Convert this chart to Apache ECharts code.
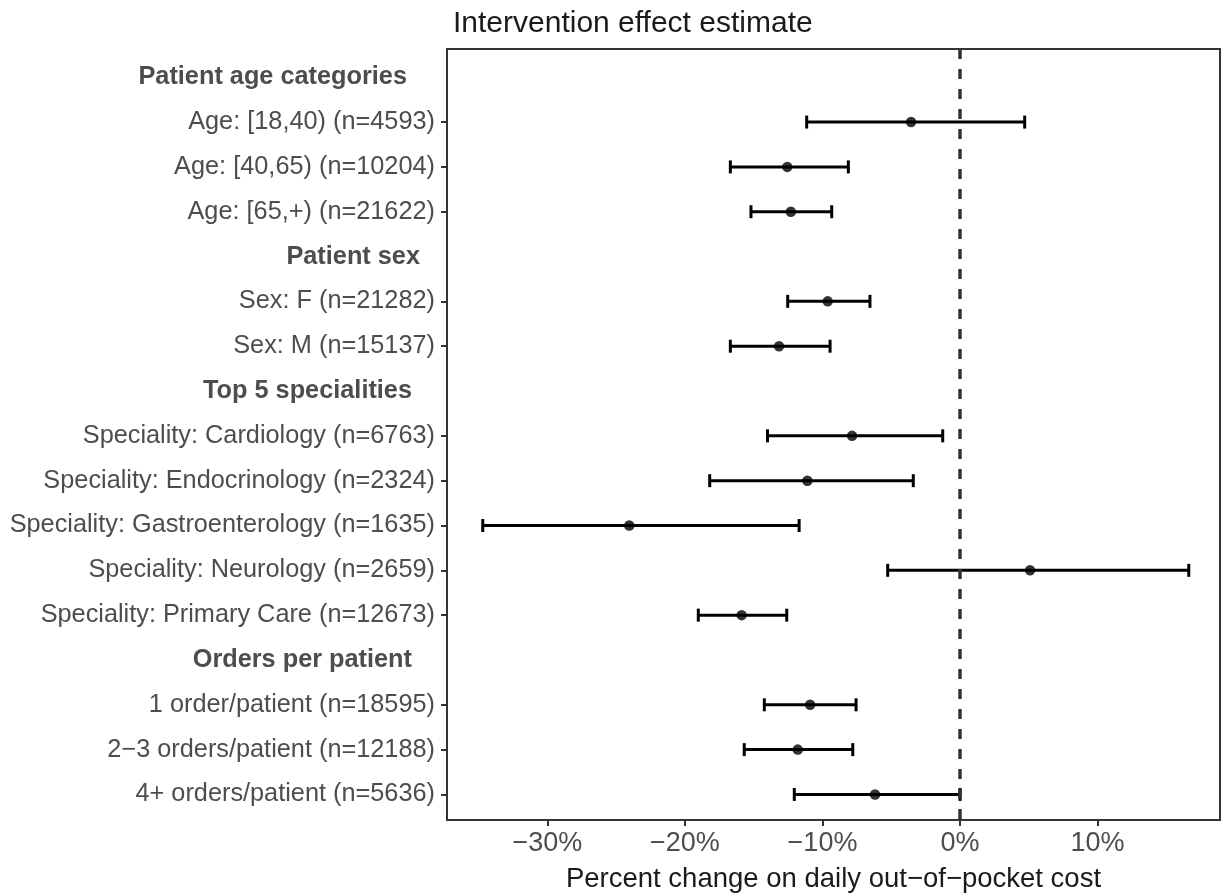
<!DOCTYPE html>
<html>
<head>
<meta charset="utf-8">
<script src="https://cdn.jsdelivr.net/npm/echarts@6/dist/echarts.min.js"></script>
<style>html,body{margin:0;padding:0;background:#fff;}#chart{width:1223px;height:894px;}</style>
</head>
<body>
<div id="chart"></div>
<script>
// ---- data ----
const categories = [
  'Patient age categories',
  'Age: [18,40) (n=4593)',
  'Age: [40,65) (n=10204)',
  'Age: [65,+) (n=21622)',
  'Patient sex',
  'Sex: F (n=21282)',
  'Sex: M (n=15137)',
  'Top 5 specialities',
  'Speciality: Cardiology (n=6763)',
  'Speciality: Endocrinology (n=2324)',
  'Speciality: Gastroenterology (n=1635)',
  'Speciality: Neurology (n=2659)',
  'Speciality: Primary Care (n=12673)',
  'Orders per patient',
  '1 order/patient (n=18595)',
  '2\u22123 orders/patient (n=12188)',
  '4+ orders/patient (n=5636)'
];
const isHeader = [true,false,false,false,true,false,false,true,false,false,false,false,false,true,false,false,false];
const estimate = [null,-3.56,-12.56,-12.3,null,-9.62,-13.16,null,-7.85,-11.1,-24.05,5.09,-15.88,null,-10.9,-11.8,-6.18];
const lower    = [null,-11.15,-16.7,-15.2,null,-12.53,-16.7,null,-14.0,-18.2,-34.7,-5.26,-19.03,null,-14.23,-15.69,-12.05];
const upper    = [null,4.7,-8.12,-9.33,null,-6.55,-9.45,null,-1.26,-3.4,-11.7,16.63,-12.6,null,-7.56,-7.8,0.0];
const xTicks = [-30,-20,-10,0,10];
const xTickLabels = ['\u221230%','\u221220%','\u221210%','0%','10%'];

// ---- styling / layout ----
const FONT = "'Liberation Sans', Arial, sans-serif";
const headerPad = {0:28, 4:15, 7:23, 13:23};

const rowIdx = categories.map((c,i)=>i);
const dataRows = rowIdx.filter(i=>!isHeader[i]);
const barData = dataRows.map(i=>[lower[i], upper[i], i]);
const pointData = dataRows.map(i=>[estimate[i], i]);

const rich = {
  lab: {fontSize:25.3, color:'#4d4d4d', fontFamily:FONT}
};
Object.keys(headerPad).forEach(k=>{
  rich['h'+k] = {fontSize:25.3, color:'#4d4d4d', fontWeight:'bold', fontFamily:FONT, padding:[0,headerPad[k],0,0]};
});

const chart = echarts.init(document.getElementById('chart'), null, {renderer:'canvas'});
chart.setOption({
  animation:false,
  backgroundColor:'#fff',
  title:{
    text:'Intervention effect estimate',
    left:448, top:4,
    textStyle:{fontSize:30, fontWeight:'normal', color:'#1a1a1a', fontFamily:FONT}
  },
  grid:{left:447, right:3, top:49, bottom:74, show:true, borderColor:'#333', borderWidth:2, backgroundColor:'#fff',
        containLabel:false, outerBoundsMode:'none'},
  xAxis:{
    type:'value', min:-37.3, max:18.9,
    name:'Percent change on daily out\u2212of\u2212pocket cost',
    nameLocation:'middle', nameGap:45,
    nameTextStyle:{fontSize:27.5, color:'#1a1a1a', fontFamily:FONT},
    axisLine:{show:true, onZero:false, lineStyle:{color:'#333', width:2}},
    axisTick:{show:true, length:6, lineStyle:{color:'#333', width:2}, customValues:xTicks},
    axisLabel:{fontSize:27, color:'#4d4d4d', fontFamily:FONT, margin:10, customValues:xTicks,
      formatter:function(v){ const k = xTicks.indexOf(Math.round(v)); return k>=0 ? xTickLabels[k] : ''; }},
    splitLine:{show:false}
  },
  yAxis:{
    type:'value', inverse:true, min:-0.63, max:16.57,
    axisLine:{show:true, onZero:false, lineStyle:{color:'#333', width:2}},
    axisTick:{show:true, length:6, lineStyle:{color:'#333', width:2}, customValues:dataRows},
    axisLabel:{margin:12, customValues:rowIdx, rich:rich,
      formatter:function(v){
        const i = Math.round(v);
        if (i<0 || i>=categories.length) return '';
        return isHeader[i] ? '{h'+i+'|'+categories[i]+'}' : '{lab|'+categories[i]+'}';
      }},
    splitLine:{show:false}
  },
  series:[
    {
      type:'custom',
      data:barData,
      encode:{x:[0,1], y:2},
      renderItem:function(params, api){
        const y = api.value(2);
        const p1 = api.coord([api.value(0), y]);
        const p2 = api.coord([api.value(1), y]);
        const h = 6.5;
        const st = {stroke:'#000', lineWidth:3};
        return {type:'group', children:[
          {type:'line', shape:{x1:p1[0], y1:p1[1], x2:p2[0], y2:p2[1]}, style:st},
          {type:'line', shape:{x1:p1[0], y1:p1[1]-h, x2:p1[0], y2:p1[1]+h}, style:st},
          {type:'line', shape:{x1:p2[0], y1:p2[1]-h, x2:p2[0], y2:p2[1]+h}, style:st}
        ]};
      },
      z:3
    },
    {
      type:'scatter',
      data:pointData,
      symbol:'circle', symbolSize:10.5,
      itemStyle:{color:'#000'},
      z:4,
      markLine:{
        silent:true, symbol:'none',
        label:{show:false},
        lineStyle:{type:[10,10], width:3.5, color:'#333'},
        data:[{xAxis:0}],
        z:5
      }
    }
  ]
});
</script>
</body>
</html>
